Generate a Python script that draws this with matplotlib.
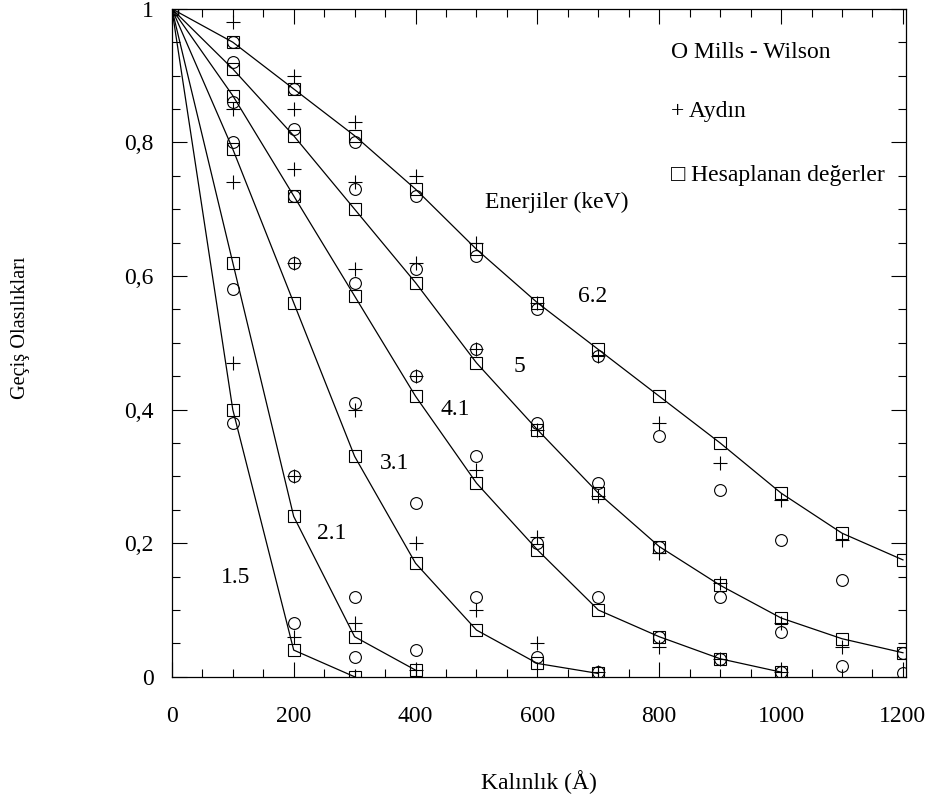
import numpy as np
import matplotlib
matplotlib.use("Agg")
import matplotlib.pyplot as plt
from matplotlib.ticker import MultipleLocator, FuncFormatter

plt.rcParams["font.family"] = ["Liberation Serif", "DejaVu Sans"]

nan = np.nan
thickness = [0, 100, 200, 300, 400, 500, 600, 700, 800, 900, 1000, 1100, 1200]
energies = ["1.5", "2.1", "3.1", "4.1", "5", "6.2"]

# Hesaplanan degerler (squares + lines)
calc = {
    "1.5": [1, 0.40, 0.04, 0.00],
    "2.1": [1, 0.62, 0.24, 0.06, 0.01],
    "3.1": [1, 0.79, 0.56, 0.33, 0.17, 0.07, 0.02, 0.005],
    "4.1": [1, 0.87, 0.72, 0.57, 0.42, 0.29, 0.19, 0.10, 0.06, 0.027, 0.007],
    "5":   [1, 0.91, 0.81, 0.70, 0.59, 0.47, 0.37, 0.275, 0.195, 0.137, 0.088, 0.057, 0.036],
    "6.2": [1, 0.95, 0.88, 0.81, 0.73, 0.64, 0.56, 0.49, 0.42, 0.35, 0.275, 0.215, 0.175],
}
# Mills - Wilson (circles)
mills = {
    "1.5": [nan, 0.38, 0.08, 0.03],
    "2.1": [nan, 0.58, 0.30, 0.12, 0.04],
    "3.1": [nan, 0.80, 0.62, 0.41, 0.26, 0.12, 0.03, 0.007],
    "4.1": [nan, 0.86, 0.72, 0.59, 0.45, 0.33, 0.20, 0.12, 0.06, 0.027, 0.007],
    "5":   [nan, 0.92, 0.82, 0.73, 0.61, 0.49, 0.38, 0.29, 0.195, 0.12, 0.067, 0.016, 0.006],
    "6.2": [nan, 0.95, 0.88, 0.80, 0.72, 0.63, 0.55, 0.48, 0.36, 0.28, 0.205, 0.145, 0.036],
}
# Aydin (plus)
aydin = {
    "1.5": [nan, 0.47, 0.06, 0.00],
    "2.1": [nan, nan, 0.30, 0.08, 0.01],
    "3.1": [nan, 0.74, 0.62, 0.40, 0.20, 0.10, 0.05, 0.007],
    "4.1": [nan, 0.85, 0.76, 0.61, 0.45, 0.31, 0.21, nan, 0.045, 0.027, 0.007],
    "5":   [nan, nan, 0.85, 0.74, 0.62, 0.49, 0.37, 0.27, 0.185, 0.14, 0.08, 0.045],
    "6.2": [nan, 0.98, 0.90, 0.83, 0.75, 0.65, 0.56, 0.48, 0.38, 0.32, 0.265, 0.205],
}
# energy label positions (data coords)
label_pos = {"1.5": (105, 0.148), "2.1": (262, 0.215), "3.1": (365, 0.32),
             "4.1": (465, 0.40), "5": (570, 0.465), "6.2": (690, 0.57)}

fig = plt.figure(figsize=(9.34, 8.0), dpi=100)
ax = fig.add_axes([0.184, 0.154, 0.786, 0.835])

for e in energies:
    y = calc[e]
    x = thickness[:len(y)]
    ax.plot(x, y, color="black", lw=0.9, zorder=2)
    ax.plot(x, y, ls="none", marker="s", ms=8.5, mfc="none", mec="black", mew=0.8, zorder=3)
    ym = mills[e]
    ax.plot(thickness[:len(ym)], ym, ls="none", marker="o", ms=8.5, mfc="none",
            mec="black", mew=0.8, zorder=3)
    ya = aydin[e]
    ax.plot(thickness[:len(ya)], ya, ls="none", marker="+", ms=10, mec="black",
            mew=0.8, zorder=3)
    lx, ly = label_pos[e]
    ax.text(lx, ly, e, fontsize=17, ha="center", va="center")

ax.text(632, 0.71, "Enerjiler (keV)", fontsize=17, ha="center", va="center")
ax.text(820, 0.934, "O Mills - Wilson", fontsize=17, ha="left", va="center")
ax.text(820, 0.847, "+ Aydın", fontsize=17, ha="left", va="center")
ax.text(820, 0.75, "□ Hesaplanan değerler", fontsize=17, ha="left", va="center")

ax.set_xlim(0, 1205)
ax.set_ylim(0, 1.0)
ax.xaxis.set_major_locator(MultipleLocator(200))
ax.xaxis.set_minor_locator(MultipleLocator(50))
ax.yaxis.set_major_locator(MultipleLocator(0.2))
ax.yaxis.set_minor_locator(MultipleLocator(0.05))
ax.yaxis.set_major_formatter(FuncFormatter(lambda v, p: f"{v:.1f}".replace(".", ",").replace("0,0", "0").replace("1,0", "1")))
ax.tick_params(which="both", direction="in", top=True, right=True, width=0.8)
ax.tick_params(which="major", length=11, labelsize=17)
ax.tick_params(axis="x", which="major", pad=21)
ax.tick_params(axis="y", which="major", pad=13)
ax.tick_params(which="minor", length=6)
for s in ax.spines.values():
    s.set_linewidth(0.9)

fig.text(539 / 934, 1 - 782 / 800, "Kalınlık (Å)", fontsize=17, ha="center", va="center")
fig.text(21 / 934, 1 - 328 / 800, "Geçiş Olasılıkları", fontsize=14.6, ha="center",
         va="center", rotation=90)

fig.savefig("out.png", dpi=100)
